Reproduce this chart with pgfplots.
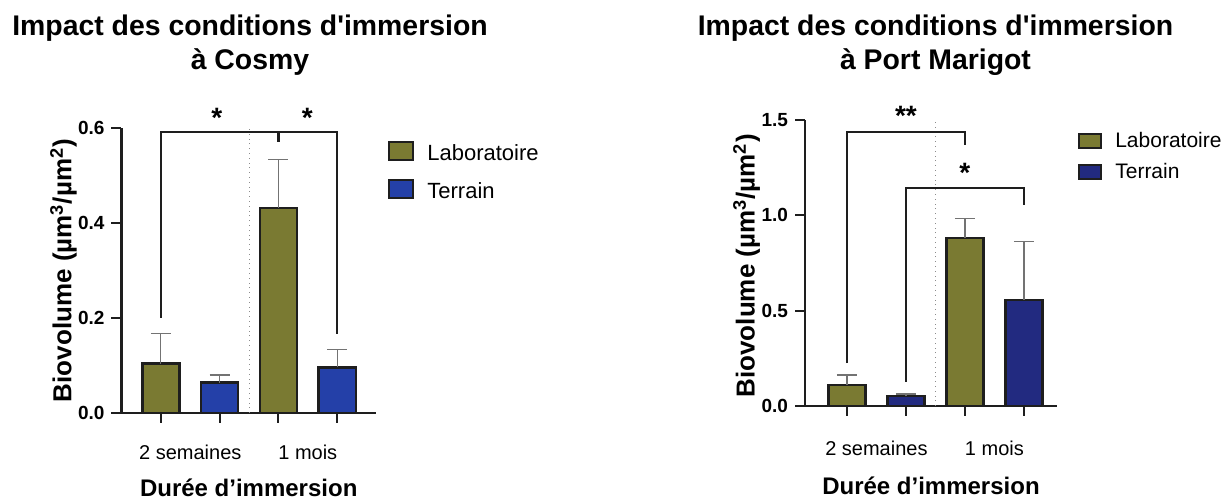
\documentclass[border=0pt]{standalone}
\usepackage{fontspec}
\setmainfont{Liberation Sans}[Ligatures=TeXOff]
\usepackage{pgfplots}
\pgfplotsset{compat=1.18}

\definecolor{labo}{RGB}{122,122,50}
\definecolor{terrA}{RGB}{36,64,168}
\definecolor{terrB}{RGB}{34,42,128}
\definecolor{ink}{RGB}{30,30,30}

\tikzset{bracket/.style={line width=1pt, color=ink}}

\pgfplotsset{
  barchart/.style={
    scale only axis, anchor=south west,
    axis lines=left, axis line style={-, line width=1.2pt, color=ink},
    tick align=outside, major tick length=5pt,
    tick style={line width=1pt, color=ink},
    enlargelimits=false, clip=false,
    xtick={0,1,2,3}, xticklabels={,,,},
    extra x ticks={0.5,2.5}, extra x tick labels={2 semaines,1 mois},
    extra x tick style={major tick length=0pt, tick style={draw=none}},
    xticklabel style={font=\fontsize{10}{12}\selectfont, anchor=base},
    yticklabel style={font=\bfseries\fontsize{9.5}{11}\selectfont},
    /pgf/number format/.cd, fixed, fixed zerofill, precision=1, assume math mode=true, /pgfplots/.cd,
    ylabel={Biovolume (µm\textsuperscript{3}/µm\textsuperscript{2})},
    xlabel={Durée d’immersion},
    y label style={font=\bfseries\fontsize{13}{15}\selectfont, anchor=center},
    x label style={font=\bfseries\fontsize{12}{14}\selectfont, at={(axis description cs:0.5,0)}, anchor=base},
    legend style={draw=none, fill=none, anchor=north west, inner sep=0pt,
      font=\fontsize{11}{13}\selectfont, column sep=6.5pt,
      nodes={inner sep=0pt, anchor=base west}},
  },
  bars/.style={ybar, bar width=0.63, bar shift=0pt, fill=#1, draw=ink, line width=1.2pt},
  sqL/.style={legend image code/.code={\draw[##1, line width=1pt] (0pt,0pt) rectangle (12pt,9pt);}},
  sqR/.style={legend image code/.code={\draw[##1, line width=1pt] (0pt,0pt) rectangle (11pt,7pt);}},
  errs/.style={error bars/.cd, y dir=plus, y explicit, error mark=-,
    error bar style={line width=0.6pt, color=black!55},
    error mark options={rotate=90, mark size=5pt, line width=0.6pt, black!55}},
}

\begin{document}
\begin{tikzpicture}
\path[use as bounding box] (0pt,0pt) rectangle (614pt,251pt);

% ---- Cosmy
\begin{axis}[barchart,
    at={(60.75pt,44.5pt)}, width=127.25pt, height=142.5pt,
    xmin=-0.67, xmax=3.66, ymin=0, ymax=0.6,
    ytick={0,0.2,0.4,0.6},
    xticklabel style={yshift=-23.5pt},
    y label style={at={(axis description cs:-0.228,0.5)}},
    x label style={yshift=-42pt},
    legend style={at={(axis description cs:1.047,0.955)}, row sep=8pt},
]
\draw[dotted, color=black!45] (axis cs:1.5,0) -- (axis cs:1.5,0.6);
\addplot[bars=labo, sqL, errs]
  coordinates {(0,0.104) +- (0,0.063) (2,0.432) +- (0,0.102)};
\addlegendentry{Laboratoire}
\addplot[bars=terrA, sqL, errs]
  coordinates {(1,0.064) +- (0,0.016) (3,0.096) +- (0,0.038)};
\addlegendentry{Terrain}
\draw[bracket] (axis cs:0,0.2) -- (axis cs:0,0.592) -- (axis cs:3,0.592) -- (axis cs:3,0.167);
\draw[line width=1.8pt, color=ink] (axis cs:2,0.592) -- (axis cs:2,0.57);
\node[font=\bfseries\fontsize{14}{14}\selectfont] at (axis cs:0.95,0.622) {*};
\node[font=\bfseries\fontsize{14}{14}\selectfont] at (axis cs:2.49,0.622) {*};
\end{axis}

% ---- Port Marigot
\begin{axis}[barchart,
    at={(402.5pt,48pt)}, width=126pt, height=143pt,
    xmin=-0.71, xmax=3.56, ymin=0, ymax=1.5,
    ytick={0,0.5,1,1.5},
    xticklabel style={yshift=-25pt},
    y label style={at={(axis description cs:-0.232,0.49)}},
    x label style={yshift=-44.5pt},
    legend style={at={(axis description cs:1.083,0.958)}, row sep=6.5pt,
      font=\fontsize{10.5}{12}\selectfont},
]
\draw[dotted, color=black!45] (axis cs:1.5,0) -- (axis cs:1.5,1.5);
\addplot[bars=labo, sqR, errs]
  coordinates {(0,0.11) +- (0,0.053) (2,0.88) +- (0,0.104)};
\addlegendentry{Laboratoire}
\addplot[bars=terrB, sqR, errs]
  coordinates {(1,0.052) +- (0,0.011) (3,0.556) +- (0,0.306)};
\addlegendentry{Terrain}
\draw[bracket] (axis cs:0,0.225) -- (axis cs:0,1.439) -- (axis cs:2,1.439) -- (axis cs:2,1.369);
\draw[bracket] (axis cs:1,0.128) -- (axis cs:1,1.142) -- (axis cs:3,1.142) -- (axis cs:3,1.054);
\node[font=\bfseries\fontsize{14}{14}\selectfont] at (axis cs:1,1.52) {**};
\node[font=\bfseries\fontsize{14}{14}\selectfont] at (axis cs:2,1.225) {*};
\end{axis}

% ---- titles
\node[font=\bfseries\fontsize{14.2}{16}\selectfont, anchor=base] at (125pt,233pt) {Impact des conditions d'immersion};
\node[font=\bfseries\fontsize{14.2}{16}\selectfont, anchor=base] at (125pt,216pt) {à Cosmy};
\node[font=\bfseries\fontsize{14.2}{16}\selectfont, anchor=base] at (467.75pt,233pt) {Impact des conditions d'immersion};
\node[font=\bfseries\fontsize{14.2}{16}\selectfont, anchor=base] at (467.75pt,216pt) {à Port Marigot};
\end{tikzpicture}
\end{document}
